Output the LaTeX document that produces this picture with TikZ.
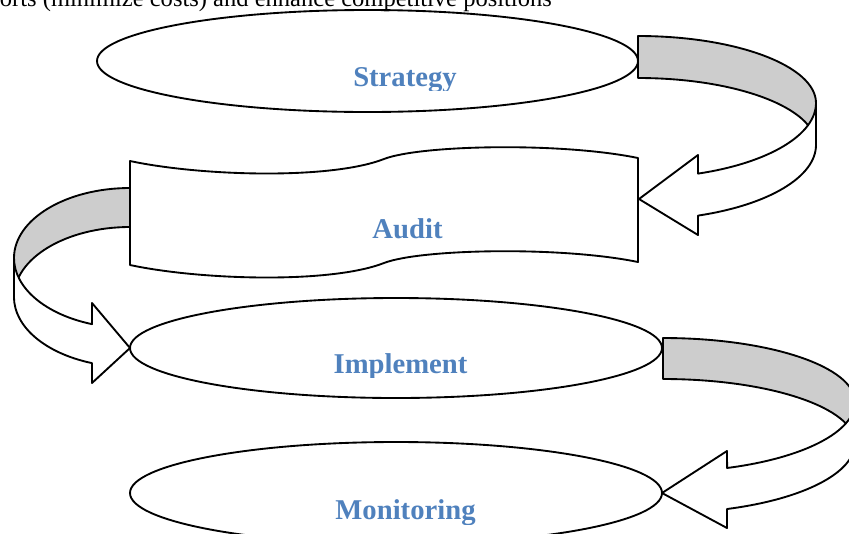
\documentclass[tikz,border=0pt]{standalone}
\usepackage{fontspec}
\setmainfont{Liberation Serif}
\definecolor{stagetext}{RGB}{79,129,189}
\definecolor{bandgray}{RGB}{205,205,205}
\begin{document}
\begin{tikzpicture}[x=0.75pt,y=-0.75pt,line width=1.4pt,line join=round]
\tikzstyle{stagename}=[text=stagetext, font=\fontsize{21.5}{24}\selectfont\bfseries, inner sep=0pt, anchor=base]
\tikzstyle{backband}=[draw, fill=bandgray]
\tikzstyle{frontband}=[draw, fill=white]

\useasboundingbox (0,0) rectangle (849,533);
\clip (0,0) rectangle (849,533);

\node[font=\fontsize{18.4}{22}\selectfont, inner sep=0pt, anchor=base west] (intro) at (-1,6)
    {orts (minimize costs) and enhance competitive positions};

% stages
\draw (367.5,61) ellipse [x radius=270.5, y radius=51];
\draw (130,161) .. controls (200,176) and (330,180) .. (384,159)
    .. controls (420,145) and (560,142) .. (638,158)
    -- (638,262) .. controls (560,246) and (420,249) .. (384,263)
    .. controls (330,284) and (200,280) .. (130,265) -- cycle;
\draw (396,348) ellipse [x radius=266, y radius=50];
\draw (396,493) ellipse [x radius=266, y radius=51];

\coordinate (auditR) at (639,199);
\coordinate (implementL) at (130,348);
\coordinate (monitoringR) at (662,493);

% labels
\begin{scope}
\clip (300,40) rectangle (500,90);
\node[stagename] (strategy) at (405,86) {Strategy};
\end{scope}
\node[stagename] (audit) at (407.5,238) {Audit};
\begin{scope}
\clip (300,330) rectangle (500,377);
\node[stagename] (implement) at (400.5,373) {Implement};
\end{scope}
\begin{scope}
\clip (300,480) rectangle (500,524);
\node[stagename] (monitoring) at (405.5,519) {Monitoring};
\end{scope}

% strategy -> audit
\draw[backband] (638,36) arc[start angle=-90, end angle=0, x radius=178, y radius=67]
    -- (816,145) arc[start angle=0, end angle=-90, x radius=178, y radius=67] -- cycle;
\draw[frontband] (816,103) arc[start angle=0, end angle=70.3, x radius=178, y radius=75]
    -- (698,155) -- (auditR) -- (698,235) -- (698,215.6)
    arc[start angle=70.3, end angle=0, x radius=178, y radius=75] -- cycle;

% audit -> implement
\draw[backband] (130,188) arc[start angle=270, end angle=180, x radius=116, y radius=70]
    -- (14,297) arc[start angle=180, end angle=270, x radius=116, y radius=70] -- cycle;
\draw[frontband] (14,258) arc[start angle=180, end angle=109.1, x radius=116, y radius=70]
    -- (92,303) -- (implementL) -- (92,383) -- (92,363.1)
    arc[start angle=109.1, end angle=180, x radius=116, y radius=70] -- cycle;

% implement -> monitoring
\draw[backband] (663,338) arc[start angle=-90, end angle=0, x radius=192, y radius=64]
    -- (855,443) arc[start angle=0, end angle=-90, x radius=192, y radius=64] -- cycle;
\draw[frontband] (855,402) arc[start angle=0, end angle=70.5, x radius=192, y radius=70]
    -- (727,451) -- (monitoringR) -- (727,528) -- (727,509)
    arc[start angle=70.5, end angle=0, x radius=192, y radius=70] -- cycle;
\end{tikzpicture}
\end{document}
